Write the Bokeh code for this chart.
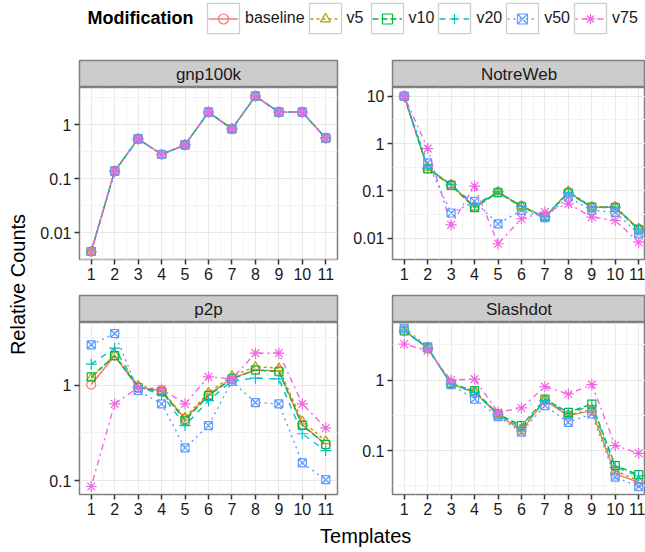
import numpy as np
from bokeh.plotting import figure
from bokeh.layouts import row, column
from bokeh.models import Range1d, FixedTicker, CustomJSTickFormatter, Legend, LegendItem
from bokeh.core.properties import value
from bokeh.embed import file_html
from bokeh.resources import INLINE

# ---------------- data ----------------
templates = [1, 2, 3, 4, 5, 6, 7, 8, 9, 10, 11]
series_names = ["baseline", "v5", "v10", "v20", "v50", "v75"]
panel_names = ["gnp100k", "NotreWeb", "p2p", "Slashdot"]
legend_title = "Modification"
x_title = "Templates"
y_title = "Relative Counts"

gnp100k_baseline = [0.00454, 0.138, 0.543, 0.280, 0.422, 1.69, 0.832, 3.33, 1.69, 1.69, 0.56]
gnp100k_v5 = [0.00454, 0.138, 0.543, 0.280, 0.422, 1.69, 0.832, 3.33, 1.69, 1.69, 0.56]
gnp100k_v10 = [0.00454, 0.138, 0.543, 0.280, 0.422, 1.69, 0.832, 3.33, 1.69, 1.69, 0.56]
gnp100k_v20 = [0.00454, 0.138, 0.543, 0.280, 0.422, 1.69, 0.832, 3.33, 1.69, 1.69, 0.56]
gnp100k_v50 = [0.00454, 0.138, 0.543, 0.280, 0.422, 1.69, 0.832, 3.33, 1.69, 1.69, 0.56]
gnp100k_v75 = [0.00454, 0.138, 0.543, 0.280, 0.422, 1.69, 0.832, 3.33, 1.69, 1.69, 0.56]

notreweb_baseline = [10.0, 0.30, 0.134, 0.046, 0.094, 0.0475, 0.0278, 0.094, 0.045, 0.045, 0.0157]
notreweb_v5 = [10.0, 0.31, 0.134, 0.045, 0.095, 0.048, 0.028, 0.098, 0.046, 0.046, 0.016]
notreweb_v10 = [10.0, 0.29, 0.130, 0.044, 0.092, 0.046, 0.028, 0.090, 0.045, 0.044, 0.0150]
notreweb_v20 = [10.0, 0.30, 0.136, 0.050, 0.096, 0.047, 0.028, 0.092, 0.045, 0.045, 0.0155]
notreweb_v50 = [10.0, 0.39, 0.034, 0.0596, 0.020, 0.0385, 0.027, 0.0736, 0.0385, 0.035, 0.0123]
notreweb_v75 = [10.0, 0.78, 0.0191, 0.126, 0.0076, 0.0257, 0.0355, 0.053, 0.0278, 0.0236, 0.0082]

p2p_baseline = [1.02, 2.05, 0.95, 0.88, 0.443, 0.80, 1.19, 1.45, 1.42, 0.387, 0.239]
p2p_v5 = [1.19, 2.10, 1.00, 0.88, 0.46, 0.84, 1.26, 1.57, 1.52, 0.42, 0.26]
p2p_v10 = [1.23, 2.05, 0.95, 0.86, 0.43, 0.78, 1.17, 1.45, 1.39, 0.38, 0.239]
p2p_v20 = [1.67, 2.46, 0.95, 0.81, 0.378, 0.69, 1.12, 1.19, 1.17, 0.31, 0.206]
p2p_v50 = [2.67, 3.51, 0.88, 0.64, 0.22, 0.378, 1.10, 0.66, 0.64, 0.153, 0.102]
p2p_v75 = [0.0865, 0.64, 0.95, 0.915, 0.64, 1.23, 1.17, 2.18, 2.18, 0.64, 0.357]

slashdot_baseline = [4.99, 2.84, 0.877, 0.669, 0.323, 0.192, 0.51, 0.313, 0.368, 0.0468, 0.0356]
slashdot_v5 = [5.05, 2.90, 0.88, 0.68, 0.33, 0.20, 0.52, 0.32, 0.38, 0.052, 0.0375]
slashdot_v10 = [4.95, 2.86, 0.89, 0.706, 0.33, 0.226, 0.538, 0.348, 0.457, 0.0614, 0.0457]
slashdot_v20 = [4.95, 2.84, 0.877, 0.669, 0.323, 0.213, 0.51, 0.337, 0.433, 0.058, 0.044]
slashdot_v50 = [5.44, 2.96, 0.86, 0.538, 0.303, 0.182, 0.433, 0.252, 0.33, 0.042, 0.031]
slashdot_v75 = [3.23, 2.60, 1.00, 1.03, 0.349, 0.402, 0.805, 0.634, 0.859, 0.118, 0.0917]

panel_series = {
    "gnp100k": [gnp100k_baseline, gnp100k_v5, gnp100k_v10, gnp100k_v20, gnp100k_v50, gnp100k_v75],
    "NotreWeb": [notreweb_baseline, notreweb_v5, notreweb_v10, notreweb_v20, notreweb_v50, notreweb_v75],
    "p2p": [p2p_baseline, p2p_v5, p2p_v10, p2p_v20, p2p_v50, p2p_v75],
    "Slashdot": [slashdot_baseline, slashdot_v5, slashdot_v10, slashdot_v20, slashdot_v50, slashdot_v75],
}

# ---------------- style ----------------
FONT = "Liberation Sans"
colors = ["#F8766D", "#B79F00", "#00BA38", "#00BFC4", "#619CFF", "#F564E3"]
dashes = ["solid", "3 3", "6 3", "6 6", "2 4", "2 4 6 4"]
markers = ["circle", "triangle", "square", "cross", "square_x", "asterisk"]
msizes = [9, 9, 8, 11, 8, 11]
y_limits = {
    "gnp100k": (0.00323, 4.82),
    "NotreWeb": (0.00353, 15.3),
    "p2p": (0.0713, 4.58),
    "Slashdot": (0.0239, 6.53),
}
major_y = [0.001, 0.01, 0.1, 1, 10, 100]
minor_y = [10 ** (k + 0.5) for k in range(-4, 3)]
BORDER = "#7F7F7F"

LEFT_FW, RIGHT_FW = 258, 253
LEFT_B, RIGHT_B = 49, 53
LEFT_R, RIGHT_R = 2, 0
LEFT_XMAX, RIGHT_XMAX = 11.5, 11.29


def make_strip(name, fw, left_b, right_b):
    s = figure(frame_width=fw, frame_height=27, x_range=Range1d(0, 1), y_range=Range1d(0, 1),
               x_axis_type=None, y_axis_type=None, output_backend="svg", toolbar_location=None,
               min_border_left=left_b, min_border_right=right_b, min_border_top=1, min_border_bottom=0)
    s.background_fill_color = "#CCCCCC"
    s.border_fill_color = "white"
    s.outline_line_color = BORDER
    s.outline_line_width = 1.5
    s.grid.visible = False
    s.text(x=[0.5], y=[0.47], text=[name], text_align="center", text_baseline="middle",
           text_font=value(FONT), text_font_size="17px", text_color="#1A1A1A")
    return s


def make_panel(name, fw, left_b, right_b, bottom_b, xmax):
    ylo, yhi = y_limits[name]
    p = figure(frame_width=fw, frame_height=172, y_axis_type="log",
               x_range=Range1d(0.5, xmax), y_range=Range1d(ylo, yhi),
               output_backend="svg", toolbar_location=None,
               min_border_left=left_b, min_border_right=right_b,
               min_border_top=0, min_border_bottom=bottom_b)
    p.background_fill_color = "white"
    p.border_fill_color = "white"
    p.outline_line_color = BORDER
    p.outline_line_width = 1.5
    xt = FixedTicker(ticks=templates, minor_ticks=[t - 0.5 for t in templates] + [templates[-1] + 0.5])
    yt = FixedTicker(ticks=major_y, minor_ticks=minor_y)
    p.xaxis.ticker = xt
    p.xgrid.ticker = xt
    p.yaxis.ticker = yt
    p.ygrid.ticker = yt
    p.yaxis.formatter = CustomJSTickFormatter(code="return String(tick);")
    for ax in p.axis:
        ax.axis_line_color = None
        ax.major_tick_in = 0
        ax.major_tick_out = 5
        ax.major_tick_line_color = "#333333"
        ax.major_tick_line_width = 1.5
        ax.minor_tick_line_color = None
        ax.major_label_text_font = FONT
        ax.major_label_text_font_size = "16px"
        ax.major_label_text_color = "#1A1A1A"
        ax.major_label_standoff = 3
    for g in p.grid:
        g.grid_line_color = "#E8E8E8"
        g.grid_line_width = 1
        g.minor_grid_line_color = "#F3F3F3"
        g.minor_grid_line_width = 1
    vals = panel_series[name]
    for i in range(6):
        p.line(templates, vals[i], line_color=colors[i], line_dash=dashes[i], line_width=1.4)
    for i in range(6):
        p.scatter(templates, vals[i], marker=markers[i], size=msizes[i], fill_color=None,
                  line_color=colors[i], line_width=1.2)
    return p


strip1 = make_strip(panel_names[0], LEFT_FW, LEFT_B, LEFT_R)
strip2 = make_strip(panel_names[1], RIGHT_FW, RIGHT_B, RIGHT_R)
strip3 = make_strip(panel_names[2], LEFT_FW, LEFT_B, LEFT_R)
strip4 = make_strip(panel_names[3], RIGHT_FW, RIGHT_B, RIGHT_R)

p1 = make_panel(panel_names[0], LEFT_FW, LEFT_B, LEFT_R, 35, LEFT_XMAX)
p2 = make_panel(panel_names[1], RIGHT_FW, RIGHT_B, RIGHT_R, 35, RIGHT_XMAX)
p3 = make_panel(panel_names[2], LEFT_FW, LEFT_B, LEFT_R, 28, LEFT_XMAX)
p4 = make_panel(panel_names[3], RIGHT_FW, RIGHT_B, RIGHT_R, 28, RIGHT_XMAX)

# ---------------- legend ----------------
lf = figure(frame_width=645, frame_height=59, x_range=Range1d(0, 1), y_range=Range1d(0, 1),
            x_axis_type=None, y_axis_type=None, output_backend="svg", toolbar_location=None,
            min_border=0)
lf.outline_line_color = None
lf.grid.visible = False
lf.text(x=[0.1349], y=[0.695], text=[legend_title], text_align="left", text_baseline="middle",
        text_font=value(FONT), text_font_size="18px", text_font_style="bold", text_color="#000000")
nan = [float("nan")]
box_items = []
key_items = []
for i, nm in enumerate(series_names):
    box = lf.quad(left=nan, right=nan, top=nan, bottom=nan, fill_color="white",
                  line_color="#CFCFCF", line_width=1.3)
    ln = lf.line(x=nan, y=nan, line_color=colors[i], line_dash=dashes[i], line_width=1.4)
    pt = lf.scatter(x=nan, y=nan, marker=markers[i], size=msizes[i], fill_color=None,
                    line_color=colors[i], line_width=1.2)
    box_items.append(LegendItem(label=nm, renderers=[box]))
    key_items.append(LegendItem(label=nm, renderers=[ln, pt]))

common = dict(orientation="horizontal", label_text_font=FONT, label_text_font_size="16px",
              padding=0, margin=0, border_line_color=None, background_fill_alpha=0)
# key boxes and visible labels
legend_boxes = Legend(items=box_items, location=(203, 22), glyph_width=40, glyph_height=38,
                      label_standoff=2, spacing=0, label_text_color="#1A1A1A", **common)
# line + marker keys drawn on top, smaller so that markers keep their size
legend_keys = Legend(items=key_items, location=(208, 28.5), glyph_width=30, glyph_height=25,
                     label_standoff=7, spacing=5, label_text_alpha=0, **common)
lf.add_layout(legend_boxes)
lf.add_layout(legend_keys)

# ---------------- axis titles ----------------
ylf = figure(frame_width=30, frame_height=463, x_range=Range1d(0, 1), y_range=Range1d(0, 1),
             x_axis_type=None, y_axis_type=None, output_backend="svg", toolbar_location=None,
             min_border=0)
ylf.outline_line_color = None
ylf.grid.visible = False
ylf.text(x=[0.567], y=[0.514], text=[y_title], angle=np.pi / 2, text_align="center",
         text_baseline="middle", text_font=value(FONT), text_font_size="20px", text_color="#000000")

xlf = figure(frame_width=615, frame_height=28, x_range=Range1d(0, 1), y_range=Range1d(0, 1),
             x_axis_type=None, y_axis_type=None, output_backend="svg", toolbar_location=None,
             min_border=0)
xlf.outline_line_color = None
xlf.grid.visible = False
xlf.text(x=[0.545], y=[0.52], text=[x_title], text_align="center",
         text_baseline="middle", text_font=value(FONT), text_font_size="20px", text_color="#000000")

grid = column(row(strip1, strip2), row(p1, p2), row(strip3, strip4), row(p3, p4), xlf)
layout = column(lf, row(ylf, grid))

open("out.html", "w").write(file_html(layout, INLINE))
